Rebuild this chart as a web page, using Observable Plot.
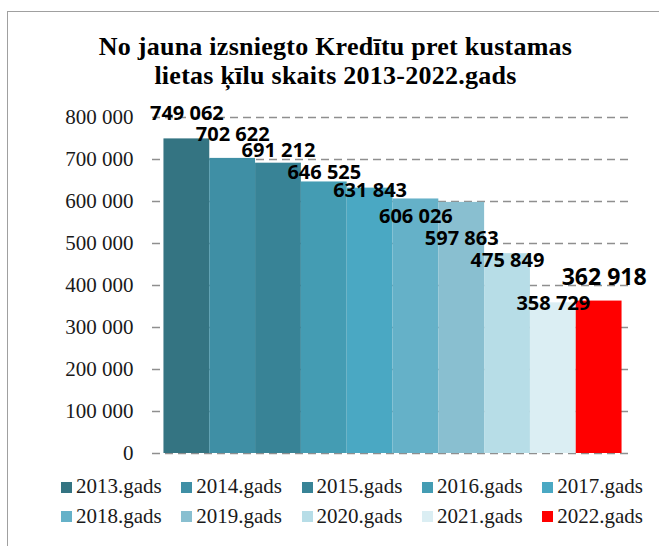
<!DOCTYPE html>
<html>
<head>
<meta charset="utf-8">
<script src="https://cdn.jsdelivr.net/npm/d3@7"></script>
<script src="https://cdn.jsdelivr.net/npm/@observablehq/plot@0.6"></script>
<style>
  html, body { margin: 0; padding: 0; background: #fff; }
  #root { position: relative; width: 659px; height: 546px; overflow: hidden; background: #fff; }
  #frame { position: absolute; left: 7px; top: 11px; width: 700px; height: 600px;
           border-top: 1.5px solid #a0a0a0; border-left: 1.5px solid #a0a0a0; }
  #title { position: absolute; left: 0; width: 671px; top: 32px; text-align: center;
           font-family: "Liberation Serif", "Times New Roman", serif; font-weight: bold; font-size: 26px;
           letter-spacing: 0.25px; line-height: 29px; color: #000; }
  #chart { position: absolute; left: 0; top: 0; }
  .lg { position: absolute; height: 21px; white-space: nowrap; }
  .lg .sw { position: absolute; left: 0; top: 5.6px; width: 11px; height: 11px; }
  .lg .tx { position: absolute; left: 15px; top: 0; font-family: "Liberation Serif", "Times New Roman", serif;
            font-size: 21px; line-height: 21px; color: #1a1a1a; }
</style>
</head>
<body>
<div id="root">
  <div id="frame"></div>
  <div id="title"></div>
  <div id="chart"></div>
  <div id="legend"></div>
</div>
<script>
// ---- data ----
const titleLines = ["No jauna izsniegto Kredītu pret kustamas", "lietas ķīlu skaits 2013-2022.gads"];
const years = ["2013.gads", "2014.gads", "2015.gads", "2016.gads", "2017.gads",
               "2018.gads", "2019.gads", "2020.gads", "2021.gads", "2022.gads"];
const values = [749062, 702622, 691212, 646525, 631843, 606026, 597863, 475849, 358729, 362918];
const colors = ["#347482", "#3f8fa5", "#388396", "#449cb3", "#4aa8c3",
                "#65b1c8", "#89bfd0", "#b7dde7", "#dbeef3", "#ff0000"];
const yTicks = [0, 100000, 200000, 300000, 400000, 500000, 600000, 700000, 800000];

// ---- label layout (pixel offsets of the value labels, as placed in the original) ----
const labelDx = [0, 0, 0, 0, 0, 0, 0, 0, 0, 5];
const labelDy = [-25, -24, -13, -9, 2, 18, 36, 7, 1, -23];
const labelSize = [20, 20, 20, 20, 20, 20, 20, 20, 20, 23];

const fmt = v => d3.format(",")(v).replace(/,/g, " ");
const data = years.map((y, i) => ({year: y, value: values[i]}));

document.getElementById("title").innerHTML = titleLines.join("<br>");

const chart = Plot.plot({
  width: 659,
  height: 470,
  marginTop: 117,
  marginBottom: 17,
  marginLeft: 152,
  marginRight: 26,
  style: {fontFamily: "'Liberation Serif', 'Times New Roman', serif", color: "#1a1a1a", background: "transparent"},
  x: {domain: years, paddingInner: 0, paddingOuter: 0.25, round: false, axis: null},
  y: {domain: [0, 800000], axis: null},
  color: {domain: years, range: colors},
  marks: [
    Plot.ruleY(yTicks, {stroke: "#8f8f8f", strokeWidth: 1.6, strokeDasharray: "8,5"}),
    Plot.barY(data, {x: "year", y: "value", fill: "year"}),
    Plot.axisY({ticks: yTicks, tickFormat: fmt, tickSize: 0, tickPadding: 19,
                fontSize: 21, fontFamily: "'Liberation Serif', 'Times New Roman', serif", label: null}),
    ...data.map((d, i) => Plot.text([d], {
      x: "year", y: "value", text: dd => fmt(dd.value),
      dx: labelDx[i], dy: labelDy[i], fontSize: labelSize[i],
      fontWeight: "bold", fontFamily: "'Open Sans', sans-serif", fill: "#000"
    }))
  ]
});
document.getElementById("chart").appendChild(chart);

// ---- legend ----
const legend = document.getElementById("legend");
years.forEach((y, i) => {
  const col = i % 5, row = Math.floor(i / 5);
  const item = document.createElement("div");
  item.className = "lg";
  item.style.left = (61 + col * 120.3) + "px";
  item.style.top = (476.4 + row * 29.3) + "px";
  const sw = document.createElement("div");
  sw.className = "sw";
  sw.style.background = colors[i];
  const tx = document.createElement("div");
  tx.className = "tx";
  tx.textContent = y;
  item.appendChild(sw);
  item.appendChild(tx);
  legend.appendChild(item);
});
</script>
</body>
</html>
